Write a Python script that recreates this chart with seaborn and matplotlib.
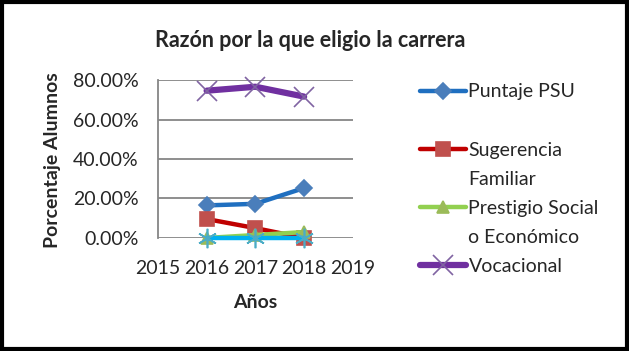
import matplotlib.pyplot as plt
import matplotlib.ticker as ticker
from matplotlib.lines import Line2D
from matplotlib.patches import Rectangle
import seaborn as sns

sns.set_theme(style="white")
plt.rcParams["font.family"] = ["Lato", "DejaVu Sans"]

# Data
years = [2016, 2017, 2018]
puntaje_psu = [0.165, 0.173, 0.253]
sugerencia = [0.096, 0.05, 0.0]
prestigio = [0.0, 0.015, 0.03]
vocacional = [0.746, 0.766, 0.716]
otro = [0.0, 0.0, 0.0]
x_ticks = [2015, 2016, 2017, 2018, 2019]
y_ticks = [0.0, 0.2, 0.4, 0.6, 0.8]

fig = plt.figure(figsize=(6.29, 3.51), dpi=100)
ax = fig.add_axes([0.251, 0.322, 0.31, 0.45])

asterisk = (6, 2, 0)
styles = [
    ("Puntaje PSU", puntaje_psu, "#1F6FC0", "D", "#4A7EBB", 8, 3.2),
    ("Sugerencia", sugerencia, "#C00000", "s", "#C0504D", 10, 3.2),
    ("Prestigio Social", prestigio, "#92D050", "^", "#9BBB59", 9, 3.2),
    ("Vocacional", vocacional, "#7030A0", "x", "#8064A2", 14, 4.5),
    ("_otro", otro, "#00B0F0", asterisk, "#4BACC6", 14, 3.2),
]
lines = {}
for label, vals, lc, mk, mc, ms, lw in styles:
    sns.lineplot(x=years, y=vals, ax=ax, color=lc, linewidth=lw,
                 marker=mk, markersize=ms, markerfacecolor=mc,
                 markeredgecolor=mc, markeredgewidth=1.2, clip_on=False,
                 legend=False)
    lines[label] = ax.get_lines()[-1]
if ax.get_legend() is not None:
    ax.get_legend().remove()

ax.set_xlim(2015, 2019)
ax.set_ylim(0, 0.8)
ax.set_xticks(x_ticks)
ax.set_yticks(y_ticks)
ax.yaxis.set_major_formatter(ticker.FuncFormatter(lambda v, p: f"{v*100:.2f}%"))
ax.yaxis.grid(True, color="#868686", linewidth=1.3)
ax.set_axisbelow(True)
for s in ["top", "right", "bottom"]:
    ax.spines[s].set_visible(False)
ax.spines["left"].set_color("#868686")
ax.spines["left"].set_linewidth(1.3)
ax.tick_params(axis="y", labelsize=14, pad=14, length=0)
ax.tick_params(axis="x", labelsize=14, pad=16, length=0)
ax.set_xlabel("")
ax.set_ylabel("")

fig.text(0.493, 0.886, "Razón por la que eligio la carrera", ha="center",
         va="center", fontsize=15.5, fontweight="bold")
fig.text(0.084, 0.545, "Porcentaje Alumnos", rotation=90, ha="center",
         va="center", fontsize=14, fontweight="bold")
fig.text(0.405, 0.137, "Años", ha="center", va="center", fontsize=14,
         fontweight="bold")

blank = Line2D([], [], linestyle="none")
handles = [lines["Puntaje PSU"], blank, lines["Sugerencia"], blank,
           lines["Prestigio Social"], blank, lines["Vocacional"]]
labels = ["Puntaje PSU", " ", "Sugerencia", "Familiar", "Prestigio Social",
          "o Económico", "Vocacional"]
fig.legend(handles=handles, labels=labels, loc="upper left",
           bbox_to_anchor=(0.652, 0.79), frameon=False, fontsize=14,
           handlelength=2.4, handletextpad=0.1, labelspacing=0.62,
           borderpad=0)

fig.add_artist(Rectangle((0.003, 0.005), 0.994, 0.99, transform=fig.transFigure,
                         fill=False, edgecolor="black", linewidth=3))

fig.savefig("out.png", dpi=100)
